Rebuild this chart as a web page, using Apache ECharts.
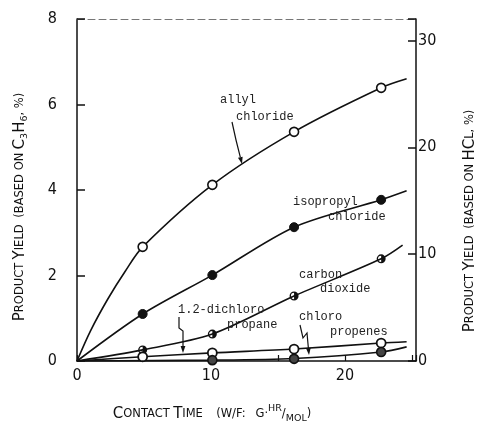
<!DOCTYPE html>
<html>
<head>
<meta charset="utf-8">
<script src="https://cdn.jsdelivr.net/npm/echarts@6/dist/echarts.min.js"></script>
<style>
  html, body { margin: 0; background: #fff; }
  #main { width: 480px; height: 429px; }
</style>
</head>
<body>
<div id="main"></div>
<script>
// contact time of the measured points (W/F, g.hr/mol)
var contactTime = [4.9, 10.1, 16.2, 22.7];

// measured yields (% based on C3H6)
var allylPts     = [2.67, 4.12, 5.36, 6.39];
var isopropylPts = [1.10, 2.01, 3.13, 3.77];
var co2Pts       = [0.26, 0.63, 1.52, 2.39];
var dichloroPts  = [0.10, 0.19, 0.28, 0.42];
var chloroPts    = [null, 0.02, 0.05, 0.21];

// drawn curves, read along the lines of the figure
var allylCurveX = [0, 1.0, 2.3, 3.6, 4.9, 10.1, 16.2, 22.7, 24.6];
var allylCurveY = [0, 0.70, 1.45, 2.10, 2.67, 4.12, 5.36, 6.39, 6.60];
var isoCurveX = [0, 4.9, 10.1, 16.2, 22.7, 24.6];
var isoCurveY = [0, 1.10, 2.01, 3.13, 3.77, 3.98];
var co2CurveX = [0, 4.9, 10.1, 16.2, 22.7, 24.3];
var co2CurveY = [0, 0.26, 0.63, 1.52, 2.39, 2.71];
var dichloroCurveX = [0, 4.9, 10.1, 16.2, 22.7, 24.6];
var dichloroCurveY = [0, 0.10, 0.19, 0.28, 0.42, 0.45];
var chloroCurveX = [0, 10.1, 16.2, 22.7, 24.6];
var chloroCurveY = [0, 0.02, 0.06, 0.21, 0.33];

// tick labels
var xLabels = [0, 10, 20];
var leftLabels = [0, 2, 4, 6, 8];
var rightLabels = [0, 10, 20, 30];

var INK = '#111';
var tickFont = '"Liberation Sans Narrow","DejaVu Sans Condensed","DejaVu Sans",sans-serif';
var noteFont = '"Liberation Mono","DejaVu Sans Mono",monospace';
var capFont = '"DejaVu Sans","Noto Sans",sans-serif';

var chart = echarts.init(document.getElementById('main'));

function pairs(xs, ys) {
  var out = [];
  for (var i = 0; i < xs.length; i++) {
    if (ys[i] != null) out.push([xs[i], ys[i]]);
  }
  return out;
}

function curve(name, xs, ys) {
  return {
    name: name, type: 'line', data: pairs(xs, ys),
    smooth: 0.3, symbol: 'none', silent: true, z: 2,
    lineStyle: { color: INK, width: 1.6 }
  };
}

function dots(name, ys, symbol, fill, border) {
  return {
    name: name, type: 'scatter', data: pairs(contactTime, ys),
    symbol: symbol, symbolSize: 9, z: 3, silent: true,
    itemStyle: { color: fill, borderColor: INK, borderWidth: border, opacity: 1 }
  };
}

// circle with right half filled
var halfDot = 'path://M0,-10A10,10,0,1,1,0,10A10,10,0,1,1,0,-10ZM0,-7A7,7,0,0,0,0,7Z';

function note(text, x, y) {
  return {
    type: 'text', x: x, y: y, z: 10,
    style: { text: text, fontSize: 12, fontFamily: noteFont, fill: '#222', verticalAlign: 'middle', align: 'left' }
  };
}

function arrow(pts) {
  var n = pts.length, a = pts[n - 2], b = pts[n - 1];
  var dx = b[0] - a[0], dy = b[1] - a[1];
  var L = Math.sqrt(dx * dx + dy * dy), ux = dx / L, uy = dy / L;
  var hl = 7, hw = 2.4;
  var base = [b[0] - ux * hl, b[1] - uy * hl];
  return [
    { type: 'polyline', z: 10, shape: { points: pts.slice(0, n - 1).concat([base]) },
      style: { stroke: INK, lineWidth: 1.2, fill: null } },
    { type: 'polygon', z: 10, shape: { points: [b, [base[0] - uy * hw, base[1] + ux * hw], [base[0] + uy * hw, base[1] - ux * hw]] },
      style: { fill: INK } }
  ];
}

var rich = {
  b: { fontSize: 15, fontFamily: capFont, fill: INK, lineHeight: 20, verticalAlign: 'middle' },
  s: { fontSize: 11.5, fontFamily: capFont, fill: INK, lineHeight: 20, verticalAlign: 'middle' },
  sub: { fontSize: 9.5, fontFamily: capFont, fill: INK, lineHeight: 20, verticalAlign: 'bottom' },
  sup: { fontSize: 9.5, fontFamily: capFont, fill: INK, lineHeight: 20, verticalAlign: 'top' }
};

function title(text, x, y, rot) {
  return {
    type: 'text', x: x, y: y, rotation: rot, z: 10,
    style: { text: text, rich: rich, align: 'center', verticalAlign: 'middle' }
  };
}

var graphics = [
  note('allyl', 220, 100),
  note('chloride', 236, 117),
  note('isopropyl', 293, 202),
  note('chloride', 328, 217),
  note('carbon', 299, 275),
  note('dioxide', 320, 289),
  note('1.2-dichloro', 178, 310),
  note('propane', 227, 325),
  note('chloro', 299, 317),
  note('propenes', 330, 332),
  title('{b|P}{s|RODUCT} {b|Y}{s|IELD}  {s|(BASED ON} {b|C}{sub|3}{b|H}{sub|6}{s|, %)}', 20, 207, Math.PI / 2),
  title('{b|P}{s|RODUCT} {b|Y}{s|IELD}  {s|(BASED ON} {b|HC}{s|L, %)}', 470, 221, Math.PI / 2),
  title('{b|C}{s|ONTACT} {b|T}{s|IME}    {s|(W/F:}   {s|G·}{sup|HR}{s|/}{sub|MOL}{s|)}', 212, 414, 0)
]
  .concat(arrow([[232, 122], [236, 140], [242, 164]]))
  .concat(arrow([[179, 317], [179, 328], [183, 331], [183, 353]]))
  .concat(arrow([[300, 325], [303, 338], [307, 333], [309, 355]]));

function axisLabelFor(list) {
  return function (v) { return list.indexOf(v) >= 0 ? String(v) : ''; };
}

var option = {
  animation: false,
  backgroundColor: '#fff',
  grid: { left: 77, right: 64, top: 19, bottom: 68 },
  xAxis: [{
    type: 'value', min: 0, max: 25.3, interval: 5,
    axisLine: { onZero: false, lineStyle: { color: INK, width: 1.5 } },
    axisTick: { inside: true, length: 6, lineStyle: { color: INK, width: 1.2 } },
    axisLabel: { margin: 7, fontSize: 16, fontFamily: tickFont, color: INK, formatter: axisLabelFor(xLabels) },
    splitLine: { show: false }
  }, {
    type: 'value', position: 'top', min: 0, max: 25.3,
    axisLine: { show: true, onZero: false, lineStyle: { color: '#777', width: 1, type: [7, 4] } },
    axisTick: { show: false }, axisLabel: { show: false }, splitLine: { show: false }
  }],
  yAxis: [{
    type: 'value', min: 0, max: 8, interval: 2,
    axisLine: { show: true, onZero: false, lineStyle: { color: INK, width: 1.5 } },
    axisTick: { show: true, inside: true, length: 8, lineStyle: { color: INK, width: 1.5 } },
    axisLabel: { margin: 20, fontSize: 16, fontFamily: tickFont, color: INK, formatter: axisLabelFor(leftLabels) },
    splitLine: { show: false }
  }, {
    type: 'value', position: 'right', min: 0, max: 32, interval: 10,
    axisLine: { show: true, onZero: false, lineStyle: { color: INK, width: 1.5 } },
    axisTick: { show: true, inside: true, length: 8, lineStyle: { color: INK, width: 1.5 } },
    axisLabel: { margin: 2, fontSize: 16, fontFamily: tickFont, color: INK, formatter: axisLabelFor(rightLabels) },
    splitLine: { show: false }
  }],
  series: [
    curve('allyl chloride', allylCurveX, allylCurveY),
    curve('isopropyl chloride', isoCurveX, isoCurveY),
    curve('carbon dioxide', co2CurveX, co2CurveY),
    curve('1.2-dichloropropane', dichloroCurveX, dichloroCurveY),
    curve('chloropropenes', chloroCurveX, chloroCurveY),
    dots('allyl chloride pts', allylPts, 'circle', '#fff', 1.6),
    dots('isopropyl chloride pts', isopropylPts, 'circle', INK, 1),
    dots('carbon dioxide pts', co2Pts, halfDot, INK, 0),
    dots('1.2-dichloropropane pts', dichloroPts, 'circle', '#fff', 1.8),
    dots('chloropropenes pts', chloroPts, 'circle', '#444', 1.6)
  ],
  graphic: graphics
};

chart.setOption(option);
</script>
</body>
</html>
